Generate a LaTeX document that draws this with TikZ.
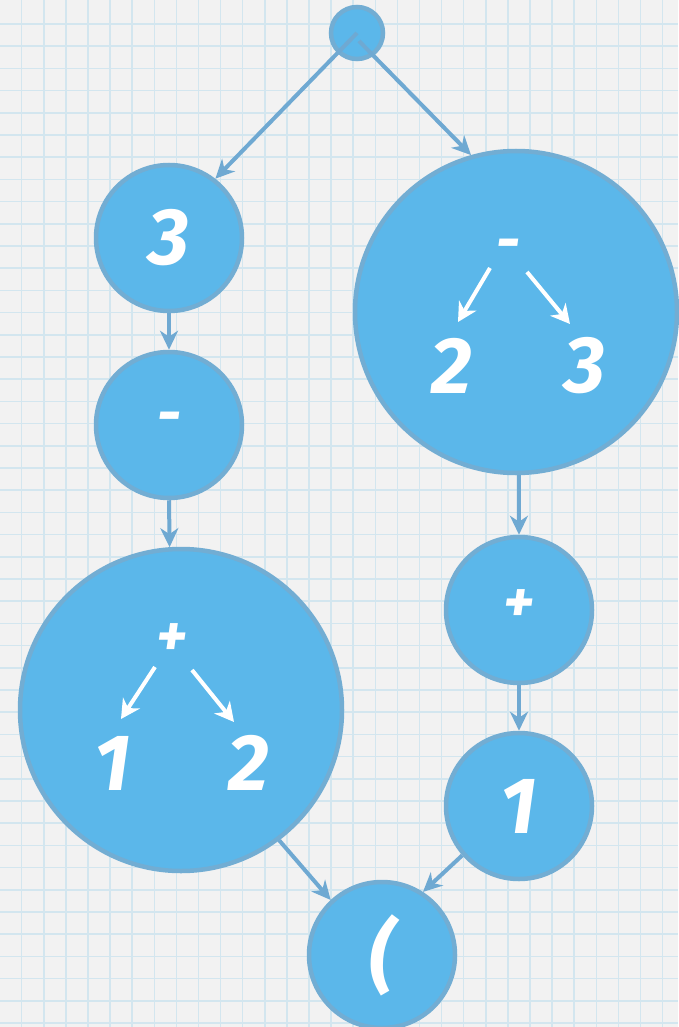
\documentclass[tikz,border=0pt]{standalone}
\usepackage{fontspec}
\setmainfont{Fira Sans}
\usetikzlibrary{arrows.meta,calc}
\definecolor{bgc}{HTML}{F2F2F2}
\definecolor{gridc}{HTML}{D3E6EF}
\definecolor{nodefill}{HTML}{5BB7EA}
\definecolor{nodeline}{HTML}{72ADD3}
\definecolor{arrowc}{HTML}{6FA9D2}
\tikzset{
  bubble/.style={circle, draw=nodeline, fill=nodefill, line width=4.5pt, inner sep=0pt, text=white,
    font=\fontsize{80}{80}\selectfont\bfseries\itshape},
  smallbubble/.style={bubble, minimum size=146pt},
  bigbubble/.style={bubble, minimum size=322pt},
  conn/.style={draw=arrowc, line width=4pt, -{Stealth[length=19pt,width=18pt,inset=6pt]}},
  inner/.style={draw=white, line width=4pt, -{Stealth[length=19pt,width=20pt,inset=6pt]}},
  digit/.style={text=white, inner sep=0pt, font=\fontsize{80}{80}\selectfont\bfseries\itshape},
  oper/.style={text=white, inner sep=0pt, font=\fontsize{60}{60}\selectfont\bfseries\itshape},
}
\begin{document}
\begin{tikzpicture}[x=1pt,y=-1pt]
\useasboundingbox (0,0) rectangle (678,1027);
\fill[bgc] (0,0) rectangle (678,1027);
\foreach \i in {0,...,30} \draw[gridc, line width=1.5pt] (21.7+22.1*\i,0) -- (21.7+22.1*\i,1027);
\foreach \j in {0,...,45} \draw[gridc, line width=1.5pt] (0,24+22.2*\j) -- (678,24+22.2*\j);

% nodes
\node[bubble, minimum size=52pt] (top) at (357,33) {};
\node[smallbubble] (n3) at (169,238) {3};
\node[smallbubble] (nminus) at (169,425) {};
\node[oper] (nminustxt) at (169,423) {-};
\node[bigbubble] (BL) at (181,710) {};
\node[bigbubble] (BR) at (516,312) {};
\node[smallbubble] (nplus) at (519,610) {};
\node[oper] (nplustxt) at (519,606) {+};
\node[smallbubble] (none) at (519,806) {1};
\node[smallbubble] (paren) at (382,955) {(};

% inside big right
\node[oper] (BRop) at (508,250) {-};
\node[digit] (BRa) at (452,366) {2};
\node[digit] (BRb) at (585,366) {3};
\coordinate (BRls) at (490,268);
\coordinate (BRle) at (458,322);
\coordinate (BRrs) at (527,272);
\coordinate (BRre) at (570,324);
\draw[inner] (BRls) -- (BRle);
\draw[inner] (BRrs) -- (BRre);

% inside big left
\node[oper] (BLop) at (172,640) {+};
\node[digit] (BLa) at (113,763) {1};
\node[digit] (BLb) at (249,763) {2};
\coordinate (BLls) at (155,667);
\coordinate (BLle) at (121,719);
\coordinate (BLrs) at (192,670);
\coordinate (BLre) at (234,722);
\draw[inner] (BLls) -- (BLle);
\draw[inner] (BLrs) -- (BLre);

% connectors
\draw[conn] (top.center) -- (n3.52);
\draw[conn] ($(top.center)+(2,8)$) -- (BR.106);
\draw[conn] (n3.south) -- (nminus.north);
\draw[conn] (nminus.south) -- (BL.94.3);
\draw[conn] (BR.-89) -- (nplus.north);
\draw[conn] (nplus.south) -- (none.north);
\draw[conn] (BL.-53) -- (paren.133);
\draw[conn] (none.221) -- (paren.57);
\end{tikzpicture}
\end{document}
